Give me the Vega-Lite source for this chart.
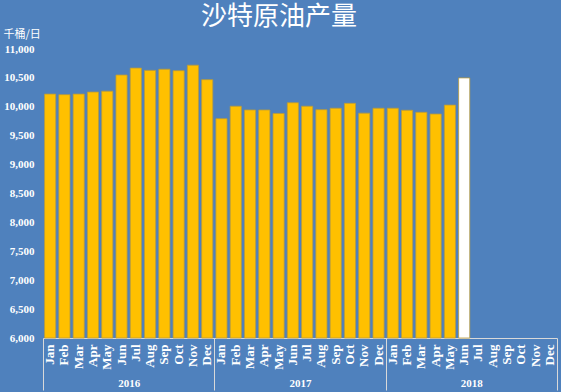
{
  "$schema": "https://vega.github.io/schema/vega-lite/v6.json",
  "autosize": {"type": "none"},
  "width": 514,
  "height": 289,
  "padding": {"left": 43, "top": 49, "right": 4, "bottom": 54},
  "background": "#4F81BD",
  "title": {"text": "沙特原油产量", "font": "Noto Sans CJK SC", "fontSize": 26, "fontWeight": "normal", "color": "#FFFFFF", "anchor": "middle", "frame": "group", "dx": -21, "offset": -2},
  "config": {"view": {"stroke": null}},
  "data": {"values": [
    {"key": "2016 Jan", "year": 2016, "value": 10220},
    {"key": "2016 Feb", "year": 2016, "value": 10210},
    {"key": "2016 Mar", "year": 2016, "value": 10220},
    {"key": "2016 Apr", "year": 2016, "value": 10255},
    {"key": "2016 May", "year": 2016, "value": 10270},
    {"key": "2016 Jun", "year": 2016, "value": 10550},
    {"key": "2016 Jul", "year": 2016, "value": 10670},
    {"key": "2016 Aug", "year": 2016, "value": 10630},
    {"key": "2016 Sep", "year": 2016, "value": 10650},
    {"key": "2016 Oct", "year": 2016, "value": 10625},
    {"key": "2016 Nov", "year": 2016, "value": 10720},
    {"key": "2016 Dec", "year": 2016, "value": 10470},
    {"key": "2017 Jan", "year": 2017, "value": 9795},
    {"key": "2017 Feb", "year": 2017, "value": 10010},
    {"key": "2017 Mar", "year": 2017, "value": 9945},
    {"key": "2017 Apr", "year": 2017, "value": 9945},
    {"key": "2017 May", "year": 2017, "value": 9885},
    {"key": "2017 Jun", "year": 2017, "value": 10070},
    {"key": "2017 Jul", "year": 2017, "value": 10010},
    {"key": "2017 Aug", "year": 2017, "value": 9950},
    {"key": "2017 Sep", "year": 2017, "value": 9975},
    {"key": "2017 Oct", "year": 2017, "value": 10060},
    {"key": "2017 Nov", "year": 2017, "value": 9890},
    {"key": "2017 Dec", "year": 2017, "value": 9975},
    {"key": "2018 Jan", "year": 2018, "value": 9975},
    {"key": "2018 Feb", "year": 2018, "value": 9940},
    {"key": "2018 Mar", "year": 2018, "value": 9905},
    {"key": "2018 Apr", "year": 2018, "value": 9875},
    {"key": "2018 May", "year": 2018, "value": 10030},
    {"key": "2018 Jun", "year": 2018, "value": 10500},
    {"key": "2018 Jul", "year": 2018, "value": null},
    {"key": "2018 Aug", "year": 2018, "value": null},
    {"key": "2018 Sep", "year": 2018, "value": null},
    {"key": "2018 Oct", "year": 2018, "value": null},
    {"key": "2018 Nov", "year": 2018, "value": null},
    {"key": "2018 Dec", "year": 2018, "value": null}
  ]},
  "layer": [
    {
      "mark": {"type": "bar", "stroke": "#B89B3C", "strokeWidth": 0.8},
      "encoding": {
        "x": {
          "field": "key", "type": "nominal", "sort": null,
          "scale": {
            "domain": ["2016 Jan","2016 Feb","2016 Mar","2016 Apr","2016 May","2016 Jun","2016 Jul","2016 Aug","2016 Sep","2016 Oct","2016 Nov","2016 Dec","2017 Jan","2017 Feb","2017 Mar","2017 Apr","2017 May","2017 Jun","2017 Jul","2017 Aug","2017 Sep","2017 Oct","2017 Nov","2017 Dec","2018 Jan","2018 Feb","2018 Mar","2018 Apr","2018 May","2018 Jun","2018 Jul","2018 Aug","2018 Sep","2018 Oct","2018 Nov","2018 Dec"],
            "paddingInner": 0.22, "paddingOuter": 0.11
          },
          "axis": {
            "orient": "bottom",
            "title": null,
            "labelExpr": "split(datum.value, ' ')[1]",
            "labelAngle": -90,
            "labelAlign": "right",
            "labelBaseline": "middle",
            "ticks": false,
            "labelPadding": 6,
            "labelFont": "Liberation Serif",
            "labelFontWeight": "bold",
            "labelFontSize": 13,
            "labelColor": "#FFFFFF",
            "domainColor": "#D9D9D9",
            "labelOverlap": false
          }
        },
        "y": {
          "field": "value", "type": "quantitative",
          "scale": {"domain": [6000, 11000], "nice": false, "zero": false},
          "axis": {
            "title": "千桶/日",
            "titleAngle": 0,
            "titleAlign": "left",
            "titleBaseline": "middle",
            "titleX": -40,
            "titleY": -15,
            "titleFont": "Noto Sans CJK SC",
            "titleFontSize": 11,
            "titleFontWeight": "normal",
            "titleColor": "#FFFFFF",
            "values": [6000, 6500, 7000, 7500, 8000, 8500, 9000, 9500, 10000, 10500, 11000],
            "format": ",d",
            "grid": false,
            "domain": false,
            "ticks": false,
            "labelPadding": 9,
            "labelFont": "Liberation Serif",
            "labelFontWeight": "bold",
            "labelFontSize": 11,
            "labelColor": "#FFFFFF"
          }
        },
        "y2": {"datum": 6000},
        "color": {"condition": {"test": "datum.key === '2018 Jun'", "value": "#FFFFFF"}, "value": "#FFC000"}
      }
    },
    {
      "mark": {"type": "point", "opacity": 0},
      "encoding": {
        "x": {
          "field": "year", "type": "quantitative",
          "scale": {"domain": [2016, 2019], "nice": false, "zero": false},
          "axis": {
            "orient": "bottom",
            "title": null,
            "values": [2016, 2016.5, 2017, 2017.5, 2018, 2018.5, 2019],
            "labelExpr": "datum.value % 1 ? format(floor(datum.value), 'd') : ''",
            "tickOpacity": {"condition": {"test": "datum.value % 1 === 0", "value": 1}, "value": 0},
            "tickSize": 52,
            "tickColor": "#D9D9D9",
            "domain": false,
            "grid": false,
            "labelPadding": -13,
            "labelFont": "Liberation Serif",
            "labelFontWeight": "bold",
            "labelFontSize": 11,
            "labelColor": "#FFFFFF",
            "labelOverlap": false,
            "labelFlush": false,
            "labelBound": false
          }
        }
      }
    }
  ],
  "resolve": {"scale": {"x": "independent"}, "axis": {"x": "independent"}}
}
